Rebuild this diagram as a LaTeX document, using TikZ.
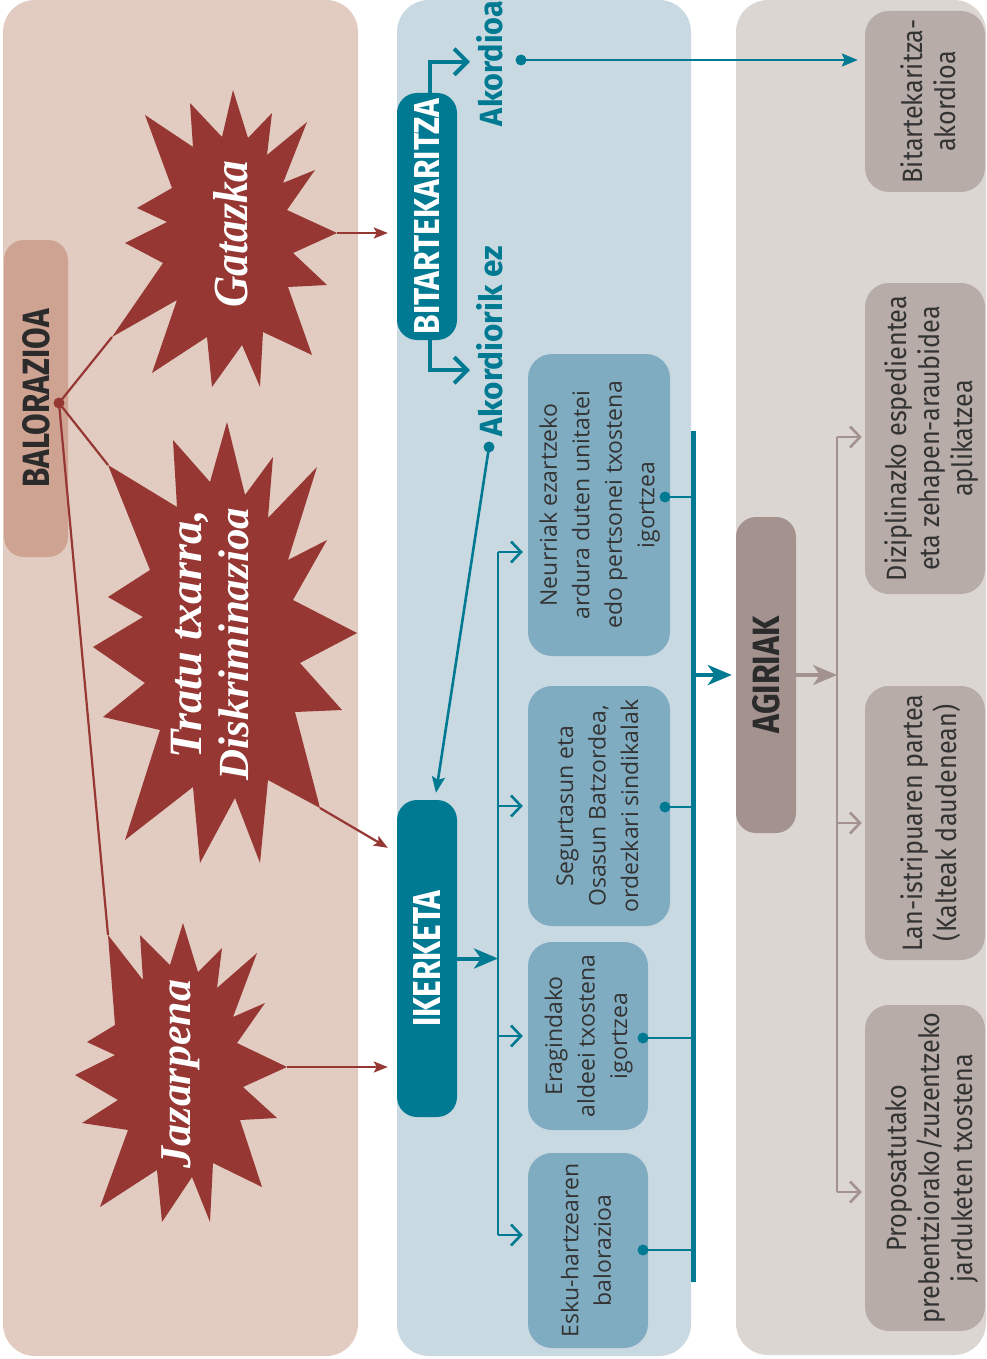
\documentclass[tikz,border=0pt]{standalone}
\usepackage{graphicx}
\usepackage{fontspec}
\setmainfont{Open Sans}
\newfontfamily\hdfont{Fira Sans}
\newfontfamily\cdfont{Fira Sans}
\newfontfamily\scfont{Liberation Serif}
\usetikzlibrary{arrows.meta,calc}
\definecolor{cLeft}{HTML}{E2CBC0}
\definecolor{cBal}{HTML}{CFA392}
\definecolor{cBurst}{HTML}{963734}
\definecolor{cMid}{HTML}{C9D9E1}
\definecolor{cTeal}{HTML}{007A92}
\definecolor{cMbox}{HTML}{80ACC1}
\definecolor{cRight}{HTML}{DCD6D3}
\definecolor{cRbox}{HTML}{B8ACA8}
\definecolor{cAg}{HTML}{A3928E}
\definecolor{cTxt}{HTML}{333333}
\definecolor{cHd}{HTML}{2B2B2B}
\newcommand{\rtab}[1]{\rotatebox{90}{\begin{tabular}{@{}c@{}}#1\end{tabular}}}
\newcommand{\rtabs}[1]{\rotatebox{90}{\scalebox{0.9}[1]{\begin{tabular}{@{}c@{}}#1\end{tabular}}}}
\tikzset{
  hbox/.style={rounded corners=20pt, inner sep=0pt},
  mbox/.style={fill=cMbox, rounded corners=24pt, inner sep=0pt, text=cTxt, font=\fontsize{23}{32.5}\selectfont},
  rbox/.style={fill=cRbox, rounded corners=24pt, inner sep=0pt},
  rtext/.style={inner sep=0pt, text=cTxt, font=\cdfont\fontsize{28}{33}\selectfont},
  bursttext/.style={inner sep=0pt, text=white, rotate=90, font=\scfont\bfseries\itshape},
  redln/.style={draw=cBurst, line width=2.2pt},
  redarr/.style={redln, -{Stealth[length=14pt,width=11pt,inset=3pt]}},
  tealthick/.style={draw=cTeal, line width=4pt},
  tealmid/.style={draw=cTeal, line width=2.6pt},
  greythick/.style={draw=cAg, line width=4pt},
  greymid/.style={draw=cAg, line width=2.6pt},
  bigchev/.style={-{Straight Barb[length=13pt,width=26pt]}},
  smallchev/.style={-{Straight Barb[length=10pt,width=21pt]}},
  bigtip/.style={-{Stealth[length=24pt,width=20pt,inset=7pt]}},
  thintip/.style={-{Stealth[length=16pt,width=13pt,inset=3pt]}},
  tdot/.style={circle, fill=cTeal, minimum size=11pt, inner sep=0pt},
}
\begin{document}
\begin{tikzpicture}[x=1pt,y=-1pt]
\useasboundingbox (0,0) rectangle (986,1359);
% panels
\fill[cLeft, rounded corners=32pt] (3,0) rectangle (358,1356);
\fill[cMid, rounded corners=32pt] (397,0) rectangle (691,1356);
\fill[cRight, rounded corners=32pt] (736,0) rectangle (986,1355);

% header boxes
\node[hbox, fill=cBal, text=cHd, minimum width=64pt, minimum height=317pt] (bal) at (36,398.5)
  {\rotatebox{90}{\resizebox{178pt}{27pt}{\hdfont\bfseries BALORAZIOA}}};
\node[hbox, fill=cTeal, text=white, minimum width=60pt, minimum height=247pt] (bit) at (427,216.5)
  {\rotatebox{90}{\resizebox{236pt}{25pt}{\hdfont\bfseries BITARTEKARITZA}}};
\node[hbox, fill=cTeal, text=white, minimum width=60pt, minimum height=317pt] (ik) at (427,958.5)
  {\rotatebox{90}{\resizebox{136pt}{27pt}{\hdfont\bfseries IKERKETA}}};
\node[hbox, fill=cAg, text=cHd, minimum width=60pt, minimum height=316pt] (ag) at (766,675)
  {\rotatebox{90}{\resizebox{117pt}{27pt}{\hdfont\bfseries AGIRIAK}}};

% middle boxes
\node[mbox, minimum width=142pt, minimum height=302pt] (n1) at (599,505)
  {\rtab{Neurriak ezartzeko\\ardura duten unitatei\\edo pertsonei txostena\\igortzea}};
\node[mbox, minimum width=142pt, minimum height=240pt] (n2) at (599,806)
  {\rtab{Segurtasun eta\\Osasun Batzordea,\\ordezkari sindikalak}};
\node[mbox, minimum width=120pt, minimum height=188pt] (n3) at (588,1036)
  {\rtab{Eragindako\\aldeei txostena\\igortzea}};
\node[mbox, minimum width=120pt, minimum height=195pt] (n4) at (588,1250.5)
  {\rtab{Esku-hartzearen\\balorazioa}};

% right boxes
\node[rbox, minimum width=120pt, minimum height=181pt] (r1) at (925,101.5) {};
\node[rtext] (r1t) at (932,101.5) {\rtabs{Bitartekaritza-\\akordioa}};
\node[rbox, minimum width=120pt, minimum height=311pt] (r2) at (925,438.5) {};
\node[rtext] (r2t) at (933,438.5) {\rtabs{Diziplinazko espedientea\\eta zehapen-araubidea\\aplikatzea}};
\node[rbox, minimum width=120pt, minimum height=274pt] (r3) at (925,823) {};
\node[rtext] (r3t) at (933,823) {\rtabs{Lan-istripuaren partea\\(Kalteak daudenean)}};
\node[rbox, minimum width=120pt, minimum height=326pt] (r4) at (925,1168) {};
\node[rtext] (r4t) at (933,1168) {\rtabs{Proposatutako\\prebentziorako/zuzentzeko\\jarduketen txostena}};

% teal labels
\node[inner sep=0pt, text=cTeal, rotate=90] (akt) at (490,63.5)
  {\resizebox{125pt}{26pt}{\hdfont\bfseries Akordioa}};
\node[inner sep=0pt, text=cTeal, rotate=90] (akn) at (490,341)
  {\resizebox{190pt}{26pt}{\hdfont\bfseries Akordiorik ez}};

% star tips used by connectors
\coordinate (gR) at (337,233);
\coordinate (gLL) at (112,337);
\coordinate (tUL) at (108,465);
\coordinate (tLR) at (320,808);
\coordinate (jUL) at (108,935);
\coordinate (jR) at (287,1067);

% BALORAZIOA dot and lines
\node[circle, fill=cBurst, minimum size=11pt, inner sep=0pt] (bdot) at (59,403) {};
\draw[redln] (bdot.center) -- (gLL);
\draw[redln] (bdot.center) -- (tUL);
\draw[redln] (bdot.center) -- (jUL);

% bursts
\fill[cBurst] (233,90) -- (248,138) -- (272,113) -- (267,155) -- (307,122) -- (283,183) -- (315,170) -- (287,210) -- (gR) -- (293,253) -- (327,285) -- (288,287) -- (312,355) -- (263,332) -- (260,387) -- (242,345) -- (212,387) -- (207,337) -- (152,373) -- (177,300) -- (gLL) -- (163,263) -- (125,243) -- (167,222) -- (137,208) -- (172,188) -- (145,115) -- (193,147) -- (190,103) -- (222,137) -- cycle;
\fill[cBurst] (227,422) -- (245,495) -- (273,457) -- (268,518) -- (317,467) -- (288,560) -- (327,540) -- (293,600) -- (357,633) -- (300,663) -- (342,710) -- (295,712) -- (tLR) -- (268,780) -- (260,863) -- (235,798) -- (200,863) -- (193,787) -- (125,840) -- (160,730) -- (103,717) -- (145,683) -- (93,647) -- (143,617) -- (108,597) -- (150,570) -- (tUL) -- (177,507) -- (173,440) -- (210,482) -- cycle;
\fill[cBurst] (183,923) -- (198,972) -- (222,948) -- (217,988) -- (257,953) -- (233,1017) -- (265,1003) -- (237,1043) -- (jR) -- (243,1087) -- (277,1118) -- (240,1120) -- (262,1187) -- (213,1163) -- (210,1222) -- (192,1177) -- (162,1222) -- (157,1170) -- (100,1207) -- (128,1130) -- (82,1123) -- (118,1100) -- (75,1075) -- (115,1055) -- (87,1042) -- (115,1025) -- (jUL) -- (143,980) -- (140,935) -- (170,965) -- cycle;

% burst texts
\node[bursttext] (gt) at (231,234) {\resizebox{147pt}{34pt}{Gatazka}};
\node[bursttext] (tt1) at (190,634) {\resizebox{248pt}{!}{Tratu txarra,}};
\node[bursttext] (tt2) at (234,644) {\resizebox{272pt}{!}{Diskriminazioa}};
\node[bursttext] (jt) at (181,1074) {\resizebox{188pt}{!}{Jazarpena}};

% red arrows
\coordinate (tEnd) at ($(ik.north west)+(-9,48)$);
\draw[redarr, shorten >=9pt] (gR) -- (gR -| bit.west);
\draw[redarr] (tLR) -- (tEnd);
\draw[redarr, shorten >=9pt] (jR) -- (jR -| ik.west);

% mediation branches
\draw[tealthick, bigchev] ([xshift=3pt]bit.north) -- ++(0,-31) -- ++(40,0);
\draw[tealthick, bigchev] ([xshift=3pt]bit.south) -- ++(0,30) -- ++(40,0);

% agreement arrow
\node[tdot] (adot) at (521,60) {};
\draw[tealmid, thintip, shorten >=7pt] (adot.center) -- (adot -| r1.west);
% no agreement arrow
\node[tdot] (ndot) at (489,447) {};
\draw[tealmid, thintip] (ndot.center) -- ([xshift=9pt,yshift=7pt]ik.north);

% investigation
\coordinate (vtop) at (498,552);
\coordinate (vbot) at (498,1235);
\draw[tealthick, bigtip] (ik.east) -- (ik.east -| vtop);
\draw[tealmid] (vtop) -- (vbot);
\coordinate (br2) at (498,806);
\coordinate (br3) at (498,1036);
\draw[tealmid, smallchev, shorten >=5pt] (vtop) -- (vtop -| n1.west);
\draw[tealmid, smallchev, shorten >=5pt] (br2) -- (br2 -| n2.west);
\draw[tealmid, smallchev, shorten >=5pt] (br3) -- (br3 -| n3.west);
\draw[tealmid, smallchev, shorten >=5pt] (vbot) -- (vbot -| n4.west);

% collecting bar
\coordinate (bartop) at (693.5,431);
\coordinate (barbot) at (693.5,1282);
\draw[cTeal, line width=5pt] (bartop) -- (barbot);
\node[tdot] (d1) at (665,497) {};
\node[tdot] (d2) at (665,807) {};
\node[tdot] (d3) at (643,1038) {};
\node[tdot] (d4) at (643,1250) {};
\draw[tealmid] (d1.center) -- (d1 -| bartop);
\draw[tealmid] (d2.center) -- (d2 -| bartop);
\draw[tealmid] (d3.center) -- (d3 -| bartop);
\draw[tealmid] (d4.center) -- (d4 -| bartop);
\draw[tealthick, bigtip, shorten >=4pt] (ag.west -| bartop) -- (ag.west);

% documents
\coordinate (gtop) at (837,437);
\coordinate (gmid) at (837,823);
\coordinate (gbot) at (837,1192);
\draw[greythick, bigtip] (ag.east) -- (ag.east -| gtop);
\draw[greymid] (gtop) -- (gbot);
\draw[greymid, smallchev, shorten >=3pt] (gtop) -- (gtop -| r2.west);
\draw[greymid, smallchev, shorten >=3pt] (gmid) -- (gmid -| r3.west);
\draw[greymid, smallchev, shorten >=3pt] (gbot) -- (gbot -| r4.west);
\end{tikzpicture}
\end{document}
